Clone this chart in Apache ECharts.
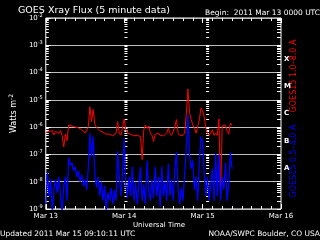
<!DOCTYPE html>
<html style="height: 100%">
<head>
    <meta charset="utf-8">
    <title>GOES Xray Flux</title>
</head>
<body style="height: 100%; margin: 0; background: #000">
    <div id="container" style="width: 320px; height: 240px"></div>
    <script type="text/javascript" src="https://cdn.jsdelivr.net/npm/echarts@6/dist/echarts.min.js"></script>
    <script type="text/javascript">
        // x axis: hours since 2011 Mar 13 00:00 UTC, one sample every half hour
        var dayLabels = ['Mar 13', 'Mar 14', 'Mar 15', 'Mar 16'];
        var stepHours = 0.5;
        var classLabels = ['A', 'B', 'C', 'M', 'X'];
        var classFloor = [1e-8, 1e-7, 1e-6, 1e-5, 1e-4];

        // GOES15 1.0-8.0 A (W m^-2)
        var longFlux = [
            6.5e-7, 5.5e-7, 7e-7, 6e-7, 7.5e-7, 5.2e-7, 7e-7, 8e-7, 6e-7, 7.5e-7,
            5e-7, 1.9e-7, 5.5e-7, 3.2e-7, 1.2e-6, 1.15e-6, 1.1e-6, 1.05e-6, 1e-6, 9e-7,
            9.5e-7, 8.5e-7, 8e-7, 7.5e-7, 6e-7, 5.5e-7, 1e-6, 5.6e-6, 1.6e-6, 4.4e-6,
            1.3e-6, 1e-6, 8.5e-7, 7.5e-7, 7e-7, 6.5e-7, 6e-7, 5.5e-7, 5.2e-7, 5.6e-7,
            5e-7, 4.8e-7, 5.2e-7, 6e-7, 1.6e-6, 6e-7, 5e-7, 5.5e-7, 2e-6, 8e-7,
            6e-7, 5.2e-7, 5.5e-7, 5e-7, 4.8e-7, 5.5e-7, 5e-7, 5.5e-7, 4.5e-7, 6.5e-8,
            8e-7, 1.2e-6, 9e-7, 1.1e-6, 6e-7, 5e-7, 3e-7, 5.5e-7, 5e-7, 6e-7,
            5e-7, 5.5e-7, 4.8e-7, 5.2e-7, 6e-7, 9e-7, 6e-7, 5e-7, 5.5e-7, 1e-6,
            1.9e-6, 6e-7, 5e-7, 5.5e-7, 5e-7, 6e-7, 3e-6, 2.5e-5, 3.4e-6, 1.9e-6,
            1.2e-6, 9e-7, 6e-7, 5.2e-7, 1.9e-6, 5e-6, 4e-6, 2.4e-6, 9e-7, 6e-7,
            5e-7, 5.5e-7, 8e-7, 5e-7, 6e-7, 5e-7, 2e-6, 3e-9, 1.1e-6, 1.2e-6,
            1.2e-6, 7e-7, 5.5e-7, 1.4e-6, 1.2e-6
        ];
        // GOES15 0.5-4.0 A (W m^-2)
        var shortFlux = [
            1.5e-9, 2.2e-8, 3e-9, 1.2e-8, 8e-10, 5e-9, 1.2e-8, 4e-9, 1.5e-8, 3e-9,
            8e-10, 7e-9, 1.5e-8, 2e-9, 7.6e-8, 4e-8, 5e-8, 2.5e-8, 3.5e-8, 1.5e-8,
            2.5e-8, 1e-8, 1.8e-8, 7e-9, 1.2e-8, 5e-9, 3e-8, 6e-7, 8e-8, 4.5e-7,
            2e-8, 6e-9, 1.5e-8, 3e-9, 1e-8, 2e-9, 7e-9, 9e-10, 4e-9, 2e-9,
            6e-9, 1.5e-9, 5e-9, 2e-9, 1.3e-7, 1.5e-8, 3e-9, 2e-8, 4e-7, 8e-9,
            2.5e-9, 1.5e-8, 3e-9, 3.6e-8, 2e-9, 1e-8, 1.5e-9, 8e-9, 3.5e-8, 2e-9,
            8e-9, 1.5e-9, 6e-8, 5e-9, 2e-9, 1.2e-8, 2.5e-9, 3.5e-8, 3e-9, 1.5e-8,
            1.2e-9, 3.6e-8, 3e-9, 1e-8, 2e-9, 4.5e-8, 3e-9, 1.2e-8, 2e-9, 3e-8,
            1.2e-7, 5e-9, 1.5e-9, 6e-9, 2e-9, 2e-8, 1.5e-7, 2.8e-6, 1e-7, 3e-8,
            6e-8, 5e-9, 1.5e-8, 2e-9, 5e-8, 4.5e-7, 3e-7, 2e-8, 3e-9, 1.5e-8,
            2e-9, 8e-9, 3e-8, 2e-9, 1.1e-7, 3e-9, 1e-7, 2e-9, 1.5e-8, 5e-9,
            5e-8, 2e-9, 8e-9, 1.2e-7, 3e-8
        ];

        var dom = document.getElementById('container');
        var myChart = echarts.init(dom);
        var font = 'DejaVu Sans';

        var minorVals = [];
        for (var d = -9; d < -2; d++) {
            for (var k = 2; k <= 9; k++) {
                minorVals.push(k * Math.pow(10, d));
            }
        }
        var allVals = minorVals.concat([1e-9, 1e-8, 1e-7, 1e-6, 1e-5, 1e-4, 1e-3, 1e-2]);
        var classMid = classFloor.map(function (f) { return f * Math.sqrt(10); });

        var gridLeft = 36, gridRight = 39;
        var dayPx = (320 - gridLeft - gridRight) / 3;

        function tickAxis(position, values, len, inside, offset) {
            return {
                type: 'log', logBase: 10, min: 1e-9, max: 1e-2,
                position: position, offset: offset || 0,
                axisLine: { show: false },
                axisLabel: { show: false },
                splitLine: { show: false },
                axisTick: {
                    show: true, inside: inside, length: len, customValues: values,
                    lineStyle: { color: '#fff', width: 1 }
                }
            };
        }

        function toSeries(values) {
            return values.map(function (v, i) { return [i * stepHours, v]; });
        }

        var xBase = {
            type: 'value', min: 0, max: 72, interval: 24,
            axisLine: { show: false },
            splitLine: { show: false },
            axisTick: { show: true, inside: true, length: 5, lineStyle: { color: '#fff' } },
            minorTick: { show: true, splitNumber: 8, length: 3, lineStyle: { color: '#fff' } }
        };

        option = {
            backgroundColor: '#000',
            animation: false,
            title: {
                text: 'GOES Xray Flux (5 minute data)',
                left: 13, top: 1,
                textStyle: { color: '#fff', fontSize: 9.5, fontWeight: 'normal', fontFamily: font }
            },
            grid: {
                left: gridLeft, right: gridRight, top: 18, bottom: 31,
                show: true, borderColor: '#fff', borderWidth: 1, backgroundColor: 'transparent'
            },
            xAxis: [
                Object.assign({}, xBase, {
                    position: 'bottom',
                    axisLabel: {
                        color: '#fff', fontSize: 7, fontFamily: font, margin: 4,
                        formatter: function (v) { return dayLabels[Math.round(v / 24)]; }
                    }
                }),
                Object.assign({}, xBase, { position: 'top', axisLabel: { show: false } })
            ],
            yAxis: [
                {
                    type: 'log', logBase: 10, min: 1e-9, max: 1e-2, splitNumber: 7,
                    position: 'left',
                    axisLine: { show: false },
                    axisTick: { show: true, inside: true, length: 5, lineStyle: { color: '#fff' } },
                    splitLine: { show: true, lineStyle: { color: '#bdbdbd', width: 1 } },
                    axisLabel: {
                        color: '#fff', fontFamily: font, margin: 3,
                        formatter: function (v) {
                            return '{b|10}{s|' + Math.round(Math.log10(v)) + '}';
                        },
                        rich: {
                            b: { fontSize: 7, color: '#fff', fontFamily: font },
                            s: { fontSize: 5, color: '#fff', fontFamily: font, padding: [0, 0, 5, 0] }
                        }
                    },
                    name: '{a|Watts m}{s|-2}',
                    nameLocation: 'middle', nameGap: 23, nameRotate: 90,
                    nameTextStyle: {
                        rich: {
                            a: { fontSize: 8, color: '#fff', fontFamily: font },
                            s: { fontSize: 6, color: '#fff', fontFamily: font, padding: [0, 0, 6, 0] }
                        }
                    }
                },
                tickAxis('left', minorVals, 3, true),
                tickAxis('right', allVals, 4, true),
                {
                    type: 'log', logBase: 10, min: 1e-9, max: 1e-2, position: 'right',
                    axisLine: { show: false }, axisTick: { show: false }, splitLine: { show: false },
                    axisLabel: {
                        customValues: classMid, color: '#fff', fontSize: 7, fontWeight: 'bold',
                        fontFamily: font, margin: 3,
                        formatter: function (v) {
                            var i = classMid.indexOf(v);
                            return i >= 0 ? classLabels[i] : '';
                        }
                    }
                },
                tickAxis('left', allVals, 3, false, -dayPx),
                tickAxis('left', allVals, 3, false, -2 * dayPx)
            ],
            graphic: [
                {
                    type: 'text', right: 0, top: 9,
                    style: { text: 'Begin:  2011 Mar 13 0000 UTC', fill: '#fff', font: '7.5px ' + font }
                },
                {
                    type: 'text', x: 159, y: 225,
                    style: {
                        text: 'Universal Time', fill: '#fff', font: '7px ' + font,
                        align: 'center', verticalAlign: 'middle'
                    }
                },
                {
                    type: 'text', x: 294, y: 76, rotation: Math.PI / 2,
                    style: {
                        text: 'GOES15 1.0\u20138.0 A', fill: '#ff0000', font: '8px ' + font,
                        align: 'center', verticalAlign: 'middle'
                    }
                },
                {
                    type: 'text', x: 294, y: 161, rotation: Math.PI / 2,
                    style: {
                        text: 'GOES15 0.5\u20134.0 A', fill: '#0000ff', font: '8px ' + font,
                        align: 'center', verticalAlign: 'middle'
                    }
                },
                {
                    type: 'text', left: 0, top: 230,
                    style: { text: 'Updated 2011 Mar 15 09:10:11 UTC', fill: '#fff', font: '7.5px ' + font }
                },
                {
                    type: 'text', right: 0, top: 230,
                    style: { text: 'NOAA/SWPC Boulder, CO USA', fill: '#fff', font: '7.5px ' + font }
                }
            ],
            series: [
                {
                    name: 'long', type: 'line', showSymbol: false, xAxisIndex: 0, yAxisIndex: 0,
                    lineStyle: { color: '#ff0000', width: 1 },
                    data: toSeries(longFlux)
                },
                {
                    name: 'short', type: 'line', showSymbol: false, xAxisIndex: 0, yAxisIndex: 0,
                    lineStyle: { color: '#0000ff', width: 1.3 },
                    data: toSeries(shortFlux)
                }
            ]
        };

        if (option && typeof option === 'object') {
            myChart.setOption(option, true);
        }
    </script>
</body>
</html>
